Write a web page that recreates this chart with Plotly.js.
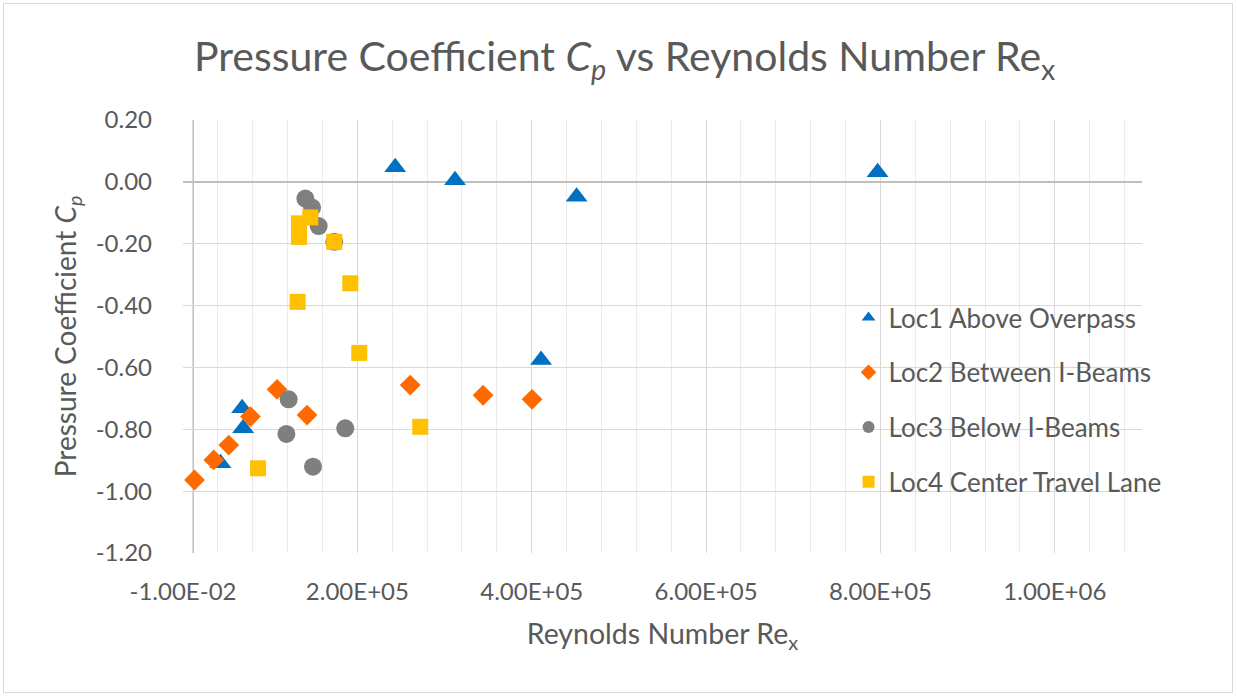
<!DOCTYPE html>
<html>
<head>
<meta charset="utf-8">
<script src="https://cdn.plot.ly/plotly-3.0.1.min.js"></script>
<style>
  html, body { margin: 0; padding: 0; background: #ffffff; }
  #wrap { position: relative; width: 1237px; height: 697px; }
  #chart { width: 1237px; height: 697px; }
  #frame { position: absolute; left: 3px; top: 3px; right: 4px; bottom: 4px;
           border: 1px solid #D9D9D9; pointer-events: none; }
</style>
</head>
<body>
<div id="wrap"><div id="chart"></div><div id="frame"></div></div>
<script>
// ---- data ----
const loc1Re = [43000, 67800, 69000, 243400, 312000, 451500, 410700, 796700];
const loc1Cp = [-0.910, -0.732, -0.797, 0.047, 0.005, -0.048, -0.576, 0.031];

const loc2Re = [13200, 35300, 52500, 77300, 107900, 142300, 260600, 344200, 400400];
const loc2Cp = [-0.964, -0.899, -0.851, -0.759, -0.671, -0.754, -0.657, -0.690, -0.703];

const loc3Re = [140300, 148000, 155600, 173500, 121200, 118600, 149100, 186100];
const loc3Cp = [-0.054, -0.083, -0.143, -0.194, -0.703, -0.815, -0.921, -0.797];

const loc4Re = [133100, 133100, 146000, 173500, 191900, 131500, 202200, 272100, 86100];
const loc4Cp = [-0.134, -0.178, -0.115, -0.194, -0.328, -0.388, -0.553, -0.792, -0.926];

const seriesNames = ['Loc1 Above Overpass', 'Loc2 Between I-Beams', 'Loc3 Below I-Beams', 'Loc4 Center Travel Lane'];

const xTickVals = [-0.01, 200000, 400000, 600000, 800000, 1000000];
const xTickText = ['-1.00E-02', '2.00E+05', '4.00E+05', '6.00E+05', '8.00E+05', '1.00E+06'];
const yTickVals = [0.2, 0, -0.2, -0.4, -0.6, -0.8, -1.0, -1.2];
const yTickText = ['0.20', '0.00', '-0.20', '-0.40', '-0.60', '-0.80', '-1.00', '-1.20'];

// ---- styling ----
const FONT = 'Lato, "Open Sans", sans-serif';
const TXT = '#595959';
const verticalAxisCross = 11700; // position of the darker vertical axis line

function mk(x, y, name, symbol, color, size, grp) {
  return {
    type: 'scatter', mode: 'markers', x: x, y: y, name: name, legendgroup: grp,
    marker: { symbol: symbol, color: color, size: size, line: { width: 0 } },
    hoverinfo: 'x+y+name'
  };
}

const data = [
  mk(loc1Re, loc1Cp, seriesNames[0], 'triangle-up', '#0070C0', 19, 'g1'),
  mk(loc2Re, loc2Cp, seriesNames[1], 'diamond', '#FF6A00', 16, 'g2'),
  mk(loc3Re, loc3Cp, seriesNames[2], 'circle', '#7F7F7F', 18, 'g3'),
  mk(loc4Re, loc4Cp, seriesNames[3], 'square', '#FFC000', 16, 'g4')
];

const layout = {
  width: 1237, height: 697,
  paper_bgcolor: '#ffffff', plot_bgcolor: '#ffffff',
  margin: { l: 183, r: 95, t: 120, b: 144, pad: 0 },
  font: { family: FONT, color: TXT, size: 24 },
  title: {
    text: 'Pressure Coefficient <i>C<sub>p</sub></i> vs Reynolds Number Re<sub>x</sub>',
    font: { family: FONT, size: 41, color: TXT },
    x: 0.505, xref: 'container', xanchor: 'center',
    y: 1 - 57 / 697, yref: 'container', yanchor: 'middle'
  },
  xaxis: {
    range: [-0.01, 1100000],
    tickmode: 'array', tickvals: xTickVals, ticktext: xTickText,
    showgrid: true, gridcolor: '#D9D9D9', gridwidth: 1,
    minor: { tickmode: 'linear', tick0: 0, dtick: 40000, showgrid: true, gridcolor: '#EBEBEB', gridwidth: 1, ticks: '' },
    zeroline: false, showline: false, ticks: '',
    tickfont: { family: FONT, size: 24, color: TXT },
    ticklabelstandoff: 22,
    title: { text: 'Reynolds Number Re<sub>x</sub>', font: { family: FONT, size: 28.5, color: TXT }, standoff: 20 },
    automargin: false, fixedrange: true
  },
  yaxis: {
    range: [-1.2, 0.2],
    tickmode: 'array', tickvals: yTickVals, ticktext: yTickText,
    showgrid: true, gridcolor: '#D9D9D9', gridwidth: 1,
    zeroline: true, zerolinecolor: '#BFBFBF', zerolinewidth: 1.5,
    showline: false, ticks: '',
    tickfont: { family: FONT, size: 24, color: TXT },
    ticklabelstandoff: 30,
    title: { text: 'Pressure Coefficient <i>C<sub>p</sub></i>', font: { family: FONT, size: 28, color: TXT }, standoff: 10 },
    automargin: false, fixedrange: true
  },
  shapes: [
    { type: 'line', xref: 'x', yref: 'paper', x0: verticalAxisCross, x1: verticalAxisCross, y0: 0, y1: 1,
      line: { color: '#BFBFBF', width: 1.5 }, layer: 'below' }
  ],
  showlegend: true,
  legend: {
    x: 0.694, xanchor: 'left', xref: 'paper',
    y: 0.3533, yanchor: 'middle', yref: 'paper',
    bgcolor: 'rgba(0,0,0,0)', borderwidth: 0,
    font: { family: FONT, size: 26, color: TXT },
    itemsizing: 'constant', traceorder: 'grouped', tracegroupgap: 18
  },
  hovermode: 'closest'
};

Plotly.newPlot('chart', data, layout, { displayModeBar: false, staticPlot: false, responsive: false });
</script>
</body>
</html>
